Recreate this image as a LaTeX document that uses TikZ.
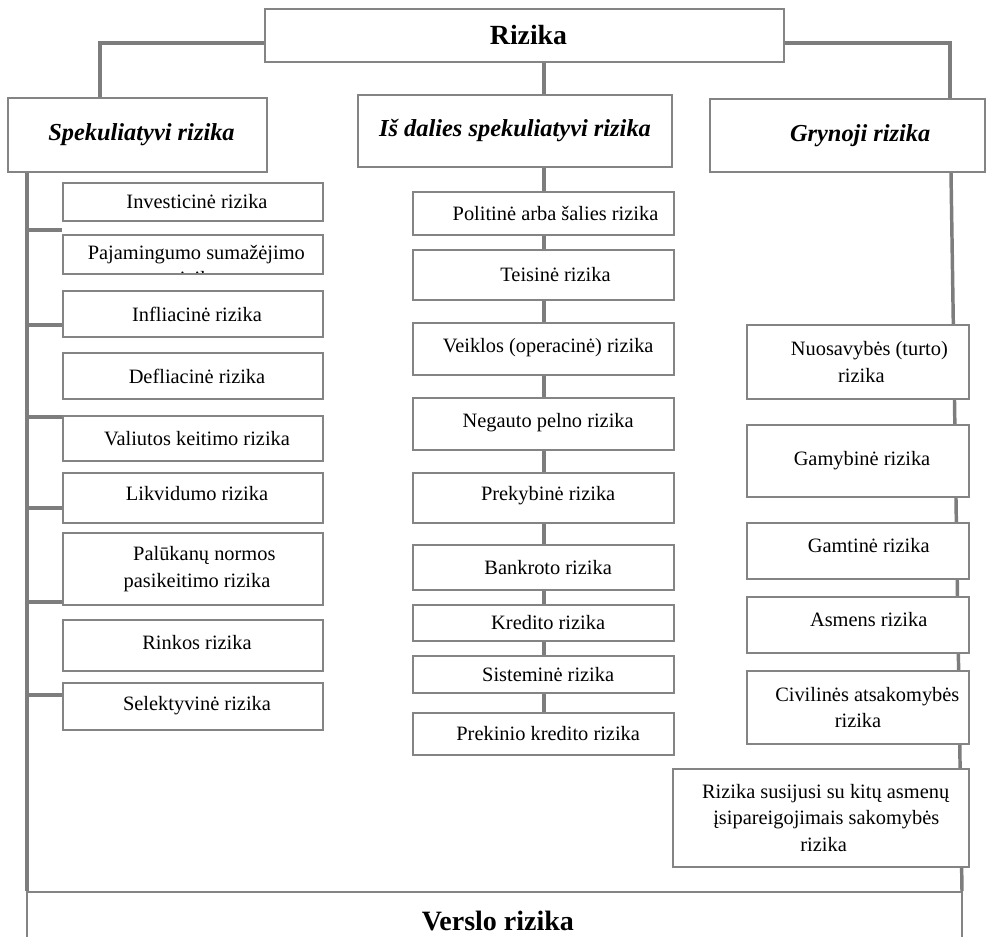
\documentclass[tikz,border=0pt]{standalone}
\usepackage{fontspec}
\setmainfont{Liberation Serif}
\usetikzlibrary{backgrounds}
\definecolor{edgegray}{RGB}{132,132,132}
\definecolor{linkgray}{RGB}{125,125,125}
\begin{document}
\begin{tikzpicture}[x=0.75pt,y=-0.75pt,
  bx/.style n args={4}{at={({(#1+#3)/2},{(#2+#4)/2})},
    minimum width=(#3-#1)*0.75pt, minimum height=(#4-#2)*0.75pt},
  rbox/.style={draw=edgegray, line width=1.3pt, fill=white, inner sep=0pt,
    align=center, font=\fontsize{15.3}{20}\selectfont},
  hbox/.style={rbox, font=\fontsize{18.3}{22}\selectfont\bfseries\itshape},
  conn/.style={draw=linkgray, line width=2.6pt}]
\useasboundingbox (0,0) rectangle (986,936);

% top level
\node[rbox, bx={265}{9}{784}{62}, font=\fontsize{20.8}{24}\selectfont\bfseries] (riz) {\hspace*{6pt}\raisebox{-2pt}{Rizika}};
\node[hbox, bx={8}{98}{267}{172}] (spek) {\hspace*{6pt}\raisebox{-4.5pt}{Spekuliatyvi rizika}};
\node[hbox, bx={358}{95}{672}{167}] (dal) {\raisebox{-3pt}{Iš dalies spekuliatyvi rizika}};
\node[hbox, bx={710}{99}{985}{172}] (gry) {\hspace*{19pt}Grynoji rizika};

% speculative risks
\node[rbox, bx={63}{183}{323}{221}] (inv) {\hspace*{6pt}Investicinė rizika};
\node[rbox, bx={63}{235}{323}{274},
  path picture={\node[align=center, inner sep=0pt] (pajtxt)
    at ([yshift=-8.25pt, xshift=2.5pt]path picture bounding box.center)
    {Pajamingumo sumažėjimo\\rizika};}] (paj) {};
\node[rbox, bx={63}{291}{323}{337}] (inf) {\hspace*{6pt}Infliacinė rizika};
\node[rbox, bx={63}{353}{323}{399}] (def) {\hspace*{6pt}Defliacinė rizika};
\node[rbox, bx={63}{416}{323}{461}] (val) {\hspace*{6pt}Valiutos keitimo rizika};
\node[rbox, bx={63}{473}{323}{523}] (lik) {\hspace*{6pt}\raisebox{7.5pt}{Likvidumo rizika}};
\node[rbox, bx={63}{533}{323}{605}] (pal) {\hspace*{17pt}Palūkanų normos\\\hspace*{6pt}pasikeitimo rizika};
\node[rbox, bx={63}{620}{323}{671}] (rin) {\hspace*{6pt}\raisebox{4.5pt}{Rinkos rizika}};
\node[rbox, bx={63}{683}{323}{730}] (sel) {\hspace*{6pt}\raisebox{4.5pt}{Selektyvinė rizika}};

% partly speculative risks
\node[rbox, bx={413}{192}{674}{235}] (p1) {\hspace*{18pt}Politinė arba šalies rizika};
\node[rbox, bx={413}{250}{674}{300}] (p2) {\hspace*{18pt}Teisinė rizika};
\node[rbox, bx={413}{323}{674}{375}] (p3) {\hspace*{7pt}\raisebox{6pt}{Veiklos (operacinė) rizika}};
\node[rbox, bx={413}{398}{674}{450}] (p4) {\hspace*{7pt}\raisebox{6pt}{Negauto pelno rizika}};
\node[rbox, bx={413}{473}{674}{523}] (p5) {\hspace*{7pt}\raisebox{7.5pt}{Prekybinė rizika}};
\node[rbox, bx={413}{545}{674}{590}] (p6) {\hspace*{7pt}Bankroto rizika};
\node[rbox, bx={413}{605}{674}{641}] (p7) {\hspace*{7pt}Kredito rizika};
\node[rbox, bx={413}{656}{674}{693}] (p8) {\hspace*{7pt}Sisteminė rizika};
\node[rbox, bx={413}{713}{674}{755}] (p9) {\hspace*{7pt}Prekinio kredito rizika};

% pure risks
\node[rbox, bx={747}{325}{969}{399}] (r1) {\hspace*{17pt}Nuosavybės (turto)\\\hspace*{5pt}rizika};
\node[rbox, bx={747}{425}{969}{497}] (r2) {\hspace*{6pt}Gamybinė rizika};
\node[rbox, bx={747}{523}{969}{579}] (r3) {\hspace*{16pt}\raisebox{9pt}{Gamtinė rizika}};
\node[rbox, bx={747}{597}{969}{653}] (r4) {\hspace*{16pt}\raisebox{9pt}{Asmens rizika}};
\node[rbox, bx={747}{671}{969}{744}] (r5) {\hspace*{14pt}Civilinės atsakomybės\\rizika};
\node[rbox, bx={673}{769}{969}{867}] (r6) {\hspace*{7pt}Rizika susijusi su kitų asmenų\\\hspace*{8pt}įsipareigojimais sakomybės\\\hspace*{4pt}rizika};

% business risk
\node[rbox, bx={27}{892}{962}{950}, font=\fontsize{21}{25}\selectfont\bfseries] (vers) {\raisebox{-4pt}{\hspace*{5pt}Verslo rizika}};

% connectors
\coordinate (tl) at (100,43);
\coordinate (tr) at (950,43);
\coordinate (mid) at (544,0);
\coordinate (lt) at (27,0);
\coordinate (rtop) at (951,0);
\coordinate (rbot) at (962,0);
\begin{scope}[on background layer]
  \draw[conn] (riz.west |- tl) -- (tl) -- (spek.north -| tl);
  \draw[conn] (riz.east |- tr) -- (tr) -- (gry.north -| tr);
  \draw[conn] (riz.south -| mid) -- (p9.north -| mid);
  \draw[conn] (spek.south -| lt) -- (vers.north -| lt);
  \draw[conn] (gry.south -| rtop) -- (vers.north -| rbot);
  \foreach \n/\yy in {paj/230, inf/325, val/417, lik/508, pal/602, sel/695}
    \draw[conn] (lt |- 0,\yy) -- (\n.west |- 0,\yy);
\end{scope}
\end{tikzpicture}
\end{document}
